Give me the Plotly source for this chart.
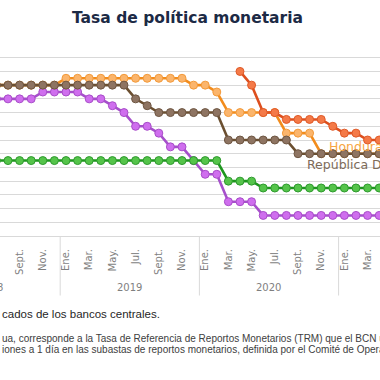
import plotly.graph_objects as go

# Monthly categories (Jul 2018 .. Apr 2021)
months = ["Jul.", "Ago.", "Sept.", "Oct.", "Nov.", "Dic.",
          "Ene.", "Feb.", "Mar.", "Abr.", "May.", "Jun.", "Jul.", "Ago.", "Sept.", "Oct.", "Nov.", "Dic.",
          "Ene.", "Feb.", "Mar.", "Abr.", "May.", "Jun.", "Jul.", "Ago.", "Sept.", "Oct.", "Nov.", "Dic.",
          "Ene.", "Feb.", "Mar.", "Abr."]
years = [2018] * 6 + [2019] * 12 + [2020] * 12 + [2021] * 4
year_labels = ["2018", "2019", "2020", "2021"]

honduras = [5.5] * 6 + [5.75] * 11 + [5.5, 5.5, 5.25] + [4.5] * 5 + [3.75] * 3 + [3.0] * 6
rep_dom = [5.5] * 12 + [5.0, 4.75] + [4.5] * 6 + [3.5] * 6 + [3.0] * 8
costa_rica = [5.0] * 4 + [5.25] * 4 + [5.0, 5.0, 4.75, 4.5, 4.0, 4.0, 3.75, 3.25, 3.25, 2.75,
                                      2.25, 2.25, 1.25, 1.25, 1.25] + [0.75] * 11
guatemala = [2.75] * 20 + [2.0] * 3 + [1.75] * 11
nicaragua = [None] * 21 + [6.0, 5.5, 4.5, 4.5, 4.25, 4.25, 4.25, 4.25, 4.0, 3.75, 3.75, 3.5, 3.5]

title_text = "Tasa de política monetaria"
label_hn = "Honduras"
label_rd = "República Dominicana"
note1 = "cados de los bancos centrales."
note2 = "ua, corresponde a la Tasa de Referencia de Reportos Monetarios (TRM) que el BCN u"
note3 = "iones a 1 día en las subastas de reportos monetarios, definida por el Comité de Opera"

x = list(range(len(months)))
X0, X1 = 0.31, 33.07


def paper_x(v):
    return (v - X0) / (X1 - X0)


series = [
    ("Honduras", honduras, "#F28C1C", "#FBB56C", "#F39A3A"),
    ("Costa Rica", costa_rica, "#A64FCB", "#CF6EEE", "#A84DC9"),
    ("Guatemala", guatemala, "#1E961E", "#55C44A", "#2E9A2E"),
    ("República Dominicana", rep_dom, "#6B4F30", "#8E7462", "#6E5642"),
    ("Nicaragua", nicaragua, "#DD4F1E", "#F47A48", "#E05A28"),
]

fig = go.Figure()
for name, vals, lc, mf, ml in series:
    fig.add_trace(go.Scatter(
        x=x, y=vals, name=name, mode="lines+markers",
        line=dict(color=lc, width=2.6),
        marker=dict(size=8, color=mf, line=dict(color=ml, width=1)),
        showlegend=False, connectgaps=False,
    ))

tickvals = x[::2]
ticktext = [months[i] for i in tickvals]

fig.update_xaxes(
    range=[X0, X1], tickvals=tickvals, ticktext=ticktext, tickangle=-90,
    tickfont=dict(family="DejaVu Sans", size=10, color="#7F7F7F"),
    showgrid=False, zeroline=False, showline=True, linecolor="#D9D9D9", linewidth=1,
    ticks="", ticklabelstandoff=8,
)
fig.update_yaxes(
    range=[0, 7], dtick=0.5, showticklabels=False, showgrid=True,
    gridcolor="#D9D9D9", gridwidth=1, zeroline=False,
)

# year separators (between Dec and Jan)
for i in range(1, len(years)):
    if years[i] != years[i - 1]:
        fig.add_shape(type="line", xref="x", yref="paper", x0=i - 0.5, x1=i - 0.5,
                      y0=0, y1=-0.31, line=dict(color="#D9D9D9", width=1))

# year labels centred under each year
for yl in year_labels:
    idx = [i for i, yy in enumerate(years) if str(yy) == yl]
    first = idx[0] if yl != "2018" else idx[-1] - 11
    last = idx[-1] if yl != "2021" else idx[0] + 11
    c = (first + last) / 2
    fig.add_annotation(text=yl, xref="paper", yref="paper", x=paper_x(c), y=-0.268,
                       xanchor="center", yanchor="middle", showarrow=False,
                       font=dict(family="DejaVu Sans", size=10, color="#7F7F7F"))

fig.add_annotation(text=label_hn, xref="paper", yref="y", x=326.5 / 380, y=3.25,
                   xanchor="left", yanchor="middle", showarrow=False,
                   font=dict(family="DejaVu Sans", size=12.5, color="#F7A543"))
fig.add_annotation(text=label_rd, xref="paper", yref="y", x=304.5 / 380, y=2.6,
                   xanchor="left", yanchor="middle", showarrow=False,
                   font=dict(family="DejaVu Sans", size=12.5, color="#7D6B59"))

for txt, ypx, sz, col in [(note1, 315, 11.5, "#262626"), (note2, 339.5, 10, "#404040"),
                          (note3, 350.5, 10, "#404040")]:
    fig.add_annotation(text=txt, xref="paper", yref="paper", x=0,
                       y=(236.5 - ypx) / 192.5, xanchor="left", yanchor="middle",
                       showarrow=False, font=dict(family="Liberation Sans", size=sz, color=col))

fig.update_layout(
    width=380, height=380,
    margin=dict(l=0, r=0, t=44, b=143.5),
    paper_bgcolor="white", plot_bgcolor="white",
    title=dict(text=title_text, x=187.5 / 380, xanchor="center",
               y=1 - 18 / 380, yanchor="middle", yref="container",
               font=dict(family="DejaVu Sans", size=15.5, color="#1C2A45", weight="bold")),
)

fig.write_html("out.html", config={"displayModeBar": False},
               post_script="document.body.style.margin='0';")
